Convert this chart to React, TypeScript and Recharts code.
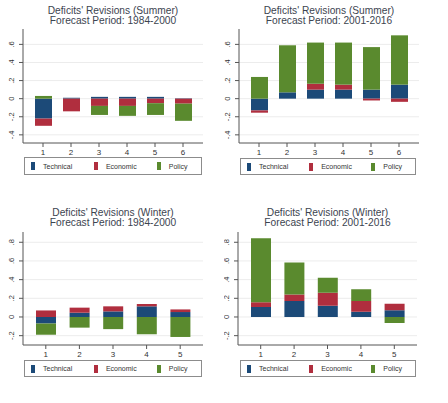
import { Bar, BarChart, CartesianGrid, XAxis, YAxis } from 'recharts';

// Revision components by horizon, one array per series
const summerEarlyHorizons = ['1', '2', '3', '4', '5', '6'];
const summerEarlyTechnical = [-0.22, 0.01, 0.02, 0.02, 0.02, 0.005];
const summerEarlyEconomic = [-0.08, -0.14, -0.08, -0.08, -0.05, -0.055];
const summerEarlyPolicy = [0.03, 0, -0.1, -0.11, -0.13, -0.19];

const summerLateHorizons = ['1', '2', '3', '4', '5', '6'];
const summerLateTechnical = [-0.13, 0.07, 0.1, 0.1, 0.1, 0.155];
const summerLateEconomic = [-0.025, 0, 0.065, 0.055, -0.02, -0.035];
const summerLatePolicy = [0.24, 0.52, 0.455, 0.465, 0.47, 0.545];

const winterEarlyHorizons = ['1', '2', '3', '4', '5'];
const winterEarlyTechnical = [-0.07, 0.046, 0.06, 0.114, 0.053];
const winterEarlyEconomic = [0.07, 0.054, 0.054, 0.025, 0.028];
const winterEarlyPolicy = [-0.12, -0.114, -0.13, -0.185, -0.214];

const winterLateHorizons = ['1', '2', '3', '4', '5'];
const winterLateTechnical = [0.107, 0.171, 0.121, 0.057, 0.071];
const winterLateEconomic = [0.05, 0.071, 0.139, 0.114, 0.071];
const winterLatePolicy = [0.685, 0.342, 0.16, 0.125, -0.064];

const summerTicks = [-0.4, -0.2, 0, 0.2, 0.4, 0.6];
const winterTicks = [-0.2, 0, 0.2, 0.4, 0.6, 0.8];

const seriesNames = ['Technical', 'Economic', 'Policy'];

const COLORS = {
  technical: '#1c4a78',
  economic: '#b02e3e',
  policy: '#5a8a2e',
};
const FONT = '"Liberation Sans", Arial, sans-serif';
const AXIS = '#555';

function buildRows(
  horizons: string[],
  technical: number[],
  economic: number[],
  policy: number[]
) {
  return horizons.map((h, i) => ({
    horizon: h,
    technical: technical[i],
    economic: economic[i],
    policy: policy[i],
  }));
}

// Stata-style labels: ".4", "-.2", "0"
function stataLabel(v: number) {
  if (Math.abs(v) < 1e-9) return '0';
  const s = v.toFixed(1);
  return s.replace('0.', '.');
}

function VerticalTick(props: any) {
  const { x, y, payload } = props;
  const cx = x - 5;
  return (
    <text
      x={cx}
      y={y}
      transform={`rotate(-90, ${cx}, ${y})`}
      textAnchor="middle"
      dominantBaseline="central"
      fontSize={7.5}
      fontFamily={FONT}
      fill="#333"
    >
      {stataLabel(payload.value)}
    </text>
  );
}

type PanelProps = {
  left: number;
  top: number;
  height: number;
  marginTop: number;
  marginRight: number;
  yAxisWidth: number;
  domain: [number, number];
  ticks: number[];
  barSize: number;
  titleTop: string;
  titleBottom: string;
  titleY: number;
  legendBox: { x1: number; x2: number; y1: number; y2: number };
  rows: { horizon: string; technical: number; economic: number; policy: number }[];
};

function TitleLine({ text, x, y }: { text: string; x: number; y: number }) {
  return (
    <div
      style={{
        position: 'absolute',
        left: x - 100,
        width: 200,
        top: y,
        height: 10,
        textAlign: 'center',
        fontFamily: FONT,
        fontSize: 10.2,
        lineHeight: '10px',
        color: '#3c4450',
        whiteSpace: 'nowrap',
      }}
    >
      {text}
    </div>
  );
}

function Panel(p: PanelProps) {
  const width = 224;
  const plotLeft = p.left + p.yAxisWidth;
  const plotRight = p.left + width - p.marginRight;
  const center = (plotLeft + plotRight) / 2;
  return (
    <>
      <TitleLine text={p.titleTop} x={center} y={p.titleY} />
      <TitleLine text={p.titleBottom} x={center} y={p.titleY + 10} />
      <div style={{ position: 'absolute', left: p.left, top: p.top }}>
        <BarChart
          width={width}
          height={p.height}
          data={p.rows}
          stackOffset="sign"
          margin={{ top: p.marginTop, right: p.marginRight, bottom: 0, left: 0 }}
        >
          <CartesianGrid
            vertical={false}
            stroke="#ececec"
            horizontalValues={p.ticks}
          />
          <XAxis
            dataKey="horizon"
            height={17}
            padding={{ left: 6, right: 6 }}
            tickSize={4}
            tickLine={{ stroke: AXIS }}
            axisLine={{ stroke: AXIS }}
            tick={{ fontSize: 8, fill: '#333', fontFamily: FONT }}
            interval={0}
          />
          <YAxis
            width={p.yAxisWidth}
            domain={p.domain}
            ticks={p.ticks}
            interval={0}
            allowDataOverflow
            tickSize={4}
            tickLine={{ stroke: AXIS }}
            axisLine={{ stroke: AXIS }}
            tick={<VerticalTick />}
          />
          <Bar
            dataKey="technical"
            stackId="s"
            fill={COLORS.technical}
            barSize={p.barSize}
            isAnimationActive={false}
          />
          <Bar
            dataKey="economic"
            stackId="s"
            fill={COLORS.economic}
            barSize={p.barSize}
            isAnimationActive={false}
          />
          <Bar
            dataKey="policy"
            stackId="s"
            fill={COLORS.policy}
            barSize={p.barSize}
            isAnimationActive={false}
          />
        </BarChart>
      </div>
      <Legend box={p.legendBox} />
    </>
  );
}

function Legend({ box }: { box: { x1: number; x2: number; y1: number; y2: number } }) {
  const keyColors = [COLORS.technical, COLORS.economic, COLORS.policy];
  return (
    <div
      style={{
        position: 'absolute',
        left: box.x1,
        top: box.y1,
        width: box.x2 - box.x1,
        height: box.y2 - box.y1,
        boxSizing: 'border-box',
        border: '1px solid #8c8c8c',
        display: 'flex',
        alignItems: 'center',
        paddingLeft: 6,
        fontFamily: FONT,
        fontSize: 7,
        color: '#333',
      }}
    >
      {seriesNames.map((name, i) => (
        <div
          key={name}
          style={{
            width: i < 2 ? '37%' : 'auto',
            display: 'flex',
            alignItems: 'center',
            whiteSpace: 'nowrap',
          }}
        >
          <span
            style={{
              display: 'inline-block',
              width: 4,
              height: 8,
              background: keyColors[i],
              marginRight: 8,
            }}
          />
          {name}
        </div>
      ))}
    </div>
  );
}

export default function App() {
  return (
    <div
      style={{
        position: 'absolute',
        left: 0,
        top: 0,
        width: 448,
        height: 403,
        background: '#fff',
        overflow: 'hidden',
      }}
    >
      <Panel
        left={0}
        top={0}
        height={160}
        marginTop={29}
        marginRight={21}
        yAxisWidth={23}
        domain={[-0.49, 0.77]}
        ticks={summerTicks}
        barSize={17}
        titleTop="Deficits' Revisions (Summer)"
        titleBottom="Forecast Period: 1984-2000"
        titleY={6}
        legendBox={{ x1: 24, x2: 202, y1: 157, y2: 175 }}
        rows={buildRows(
          summerEarlyHorizons,
          summerEarlyTechnical,
          summerEarlyEconomic,
          summerEarlyPolicy
        )}
      />
      <Panel
        left={224}
        top={0}
        height={160}
        marginTop={29}
        marginRight={29}
        yAxisWidth={15}
        domain={[-0.49, 0.77]}
        ticks={summerTicks}
        barSize={17}
        titleTop="Deficits' Revisions (Summer)"
        titleBottom="Forecast Period: 2001-2016"
        titleY={6}
        legendBox={{ x1: 240, x2: 416, y1: 158, y2: 175 }}
        rows={buildRows(
          summerLateHorizons,
          summerLateTechnical,
          summerLateEconomic,
          summerLatePolicy
        )}
      />
      <Panel
        left={0}
        top={200}
        height={162}
        marginTop={32}
        marginRight={21}
        yAxisWidth={23}
        domain={[-0.3, 0.91]}
        ticks={winterTicks}
        barSize={20}
        titleTop="Deficits' Revisions (Winter)"
        titleBottom="Forecast Period: 1984-2000"
        titleY={208}
        legendBox={{ x1: 24, x2: 202, y1: 360, y2: 377 }}
        rows={buildRows(
          winterEarlyHorizons,
          winterEarlyTechnical,
          winterEarlyEconomic,
          winterEarlyPolicy
        )}
      />
      <Panel
        left={224}
        top={200}
        height={162}
        marginTop={32}
        marginRight={31}
        yAxisWidth={14}
        domain={[-0.3, 0.91]}
        ticks={winterTicks}
        barSize={20}
        titleTop="Deficits' Revisions (Winter)"
        titleBottom="Forecast Period: 2001-2016"
        titleY={208}
        legendBox={{ x1: 240, x2: 416, y1: 360, y2: 377 }}
        rows={buildRows(
          winterLateHorizons,
          winterLateTechnical,
          winterLateEconomic,
          winterLatePolicy
        )}
      />
    </div>
  );
}
